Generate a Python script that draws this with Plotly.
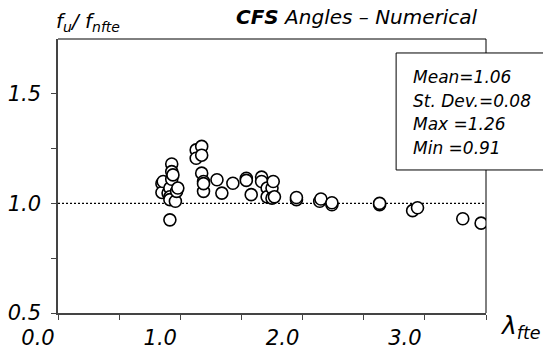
import plotly.graph_objects as go

# lambda_fte values and f_u/f_nfte ratios
lam = [0.85, 0.85, 0.86, 0.90, 0.915, 0.915, 0.915, 0.93, 0.93, 0.93, 0.94, 0.96, 0.97, 0.98, 0.915,
       1.13, 1.13, 1.175, 1.175, 1.175, 1.19, 1.19, 1.19,
       1.30, 1.34, 1.43, 1.54, 1.54, 1.58, 1.665, 1.665, 1.71, 1.71, 1.75, 1.75, 1.76, 1.77,
       1.95, 1.95, 2.14, 2.15, 2.24, 2.24, 2.63, 2.63, 2.90, 2.94, 3.31, 3.46]
ratio = [1.09, 1.05, 1.10, 1.047, 1.07, 1.03, 1.017, 1.18, 1.145, 1.11, 1.13, 1.01, 1.055, 1.07, 0.925,
         1.244, 1.206, 1.26, 1.22, 1.138, 1.10, 1.055, 1.09,
         1.108, 1.047, 1.092, 1.115, 1.105, 1.04, 1.12, 1.10, 1.07, 1.03, 1.07, 1.024, 1.10, 1.03,
         1.017, 1.027, 1.01, 1.02, 0.994, 1.003, 0.994, 1.0, 0.967, 0.98, 0.93, 0.91]

x_ticks = [0.0, 1.0, 2.0, 3.0]
x_ticklabels = ["0.0", "1.0", "2.0", "3.0"]
x_minor = [0.5, 1.5, 2.5, 3.5]
y_ticks = [0.5, 1.0, 1.5]
y_ticklabels = ["0.5", "1.0", "1.5"]
y_minor = [0.75, 1.25]
stats_lines = ["Mean=1.06", "St. Dev.=0.08", "Max =1.26", "Min =0.91"]
ref_x = [0.0, 3.5]
ref_y = [1.0, 1.0]

FONT = "DejaVu Sans, sans-serif"

fig = go.Figure()
fig.add_trace(go.Scatter(x=ref_x, y=ref_y, mode="lines",
                         line=dict(color="black", width=1.3, dash="2px,2px"),
                         hoverinfo="skip", showlegend=False))
fig.add_trace(go.Scatter(x=lam, y=ratio, mode="markers",
                         marker=dict(symbol="circle", size=12, color="white",
                                     line=dict(color="black", width=1.6)),
                         showlegend=False))

axis_font = dict(family=FONT, size=21, color="black", style="italic")
fig.update_xaxes(range=[0, 3.5], tickmode="array", tickvals=x_ticks, ticktext=x_ticklabels,
                 ticks="outside", ticklen=5, tickwidth=1.2, tickcolor="#444",
                 minor=dict(tickmode="array", tickvals=x_minor, ticks="outside",
                            ticklen=5, tickwidth=1.2, tickcolor="#444"),
                 showline=True, linecolor="#444", linewidth=1.5, showgrid=False, zeroline=False,
                 tickfont=axis_font, ticklabelstandoff=0, ticklabelshift=-20, automargin=False)
fig.update_yaxes(range=[0.5, 1.75], tickmode="array", tickvals=y_ticks, ticktext=y_ticklabels,
                 ticks="outside", ticklen=5, tickwidth=1.2, tickcolor="#444",
                 minor=dict(tickmode="array", tickvals=y_minor, ticks="outside",
                            ticklen=5, tickwidth=1.2, tickcolor="#444"),
                 showline=True, linecolor="#444", linewidth=1.5, showgrid=False, zeroline=False,
                 tickfont=axis_font, ticklabelstandoff=6, automargin=False)

# top and right borders
fig.add_shape(type="line", xref="paper", yref="paper", x0=0, x1=1, y0=1, y1=1,
              line=dict(color="black", width=1))
fig.add_shape(type="line", xref="paper", yref="paper", x0=1, x1=1, y0=0, y1=1,
              line=dict(color="black", width=1))
# stats box
fig.add_shape(type="rect", xref="paper", yref="paper", x0=0.79, x1=1.15, y0=0.522, y1=0.949,
              line=dict(color="black", width=1), fillcolor="white", layer="above")

# layout: plot area x 58..486, y 39..313
for i, s in enumerate(stats_lines):
    ypix = 77 + 23.5 * i
    fig.add_annotation(text=s, xref="paper", yref="paper",
                       x=(411 - 58) / 428, y=(313 - ypix) / 274, xanchor="left", yanchor="middle",
                       showarrow=False, font=dict(family=FONT, size=17, color="black", style="italic"))

fig.add_annotation(text="<b>CFS</b> Angles – Numerical", xref="paper", yref="paper",
                   x=(480 - 58) / 428, y=(313 - 17) / 274, xanchor="right", yanchor="middle",
                   showarrow=False, font=dict(family=FONT, size=20, color="black", style="italic"))
fig.add_annotation(text="f<sub>u</sub>/ f<sub>nfte</sub>", xref="paper", yref="paper",
                   x=(54 - 58) / 428, y=(313 - 22) / 274, xanchor="left", yanchor="middle",
                   showarrow=False, font=dict(family=FONT, size=20, color="black", style="italic"))
fig.add_annotation(text="λ<sub>fte</sub>", xref="paper", yref="paper",
                   x=(498 - 58) / 428, y=(313 - 327) / 274, xanchor="left", yanchor="middle",
                   showarrow=False, font=dict(family=FONT, size=25, color="black", style="italic"))

fig.update_layout(width=543, height=358, margin=dict(l=58, r=57, t=39, b=45),
                  plot_bgcolor="white", paper_bgcolor="white", showlegend=False)
fig.write_html("out.html")
